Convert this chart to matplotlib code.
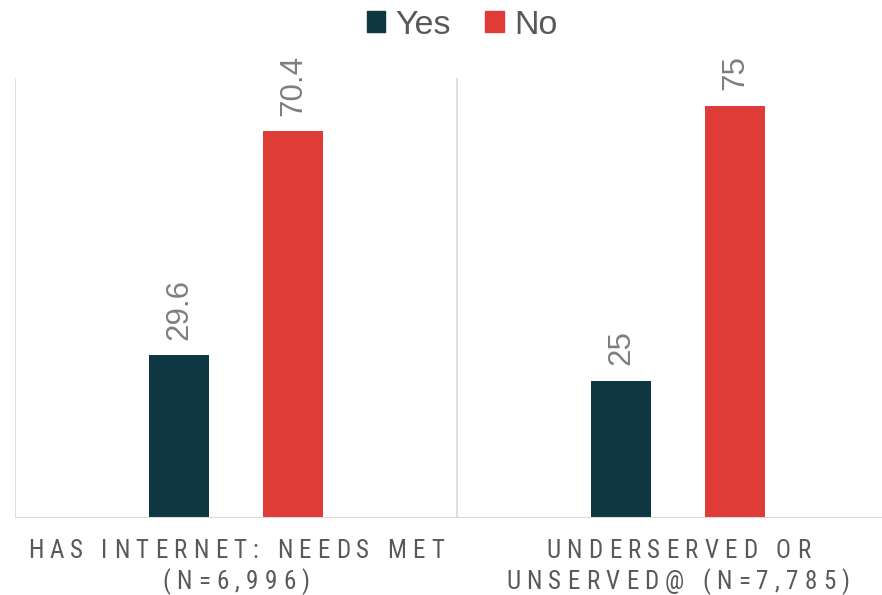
import numpy as np
import matplotlib.pyplot as plt
from matplotlib.patches import Patch
from matplotlib.font_manager import FontProperties

categories = ["HAS INTERNET: NEEDS MET\n(N=6,996)", "UNDERSERVED OR\nUNSERVED@ (N=7,785)"]
yes_vals = [29.6, 25]
no_vals = [70.4, 75]
yes_labels = ["29.6", "25"]
no_labels = ["70.4", "75"]

yes_color = "#0E3742"
no_color = "#E03C37"
grid_color = "#D9D9D9"
label_color = "#7F7F7F"
text_color = "#595959"

plt.rcParams['font.family'] = ['Liberation Sans', 'DejaVu Sans']

W, H = 882, 595
fig = plt.figure(figsize=(W / 100, H / 100), dpi=100)
ax = fig.add_axes([15 / W, 1 - 518 / H, 884 / W, 440 / H])

x = np.arange(len(categories))
w = 0.136
off = 0.129
b1 = ax.bar(x - off, yes_vals, w, color=yes_color)
b2 = ax.bar(x + off, no_vals, w, color=no_color)

for bars, labs in ((b1, yes_labels), (b2, no_labels)):
    for b, t in zip(bars, labs):
        ax.annotate(t, (b.get_x() + b.get_width() / 2, b.get_height()),
                    xytext=(0, 11), textcoords="offset points",
                    rotation=90, ha="center", va="bottom",
                    fontsize=22.5, color=label_color)

ax.set_xlim(-0.5, 1.5)
ax.set_ylim(0, 80)
for xv in (-0.5, 0.5, 1.5):
    ax.axvline(xv, color=grid_color, lw=1.2, zorder=0)
for s in ax.spines.values():
    s.set_visible(False)
ax.axhline(0, color=grid_color, lw=1.5, zorder=3)
ax.set_yticks([])
ax.set_xticks([])

# category labels: condensed font with letter spacing
renderer = fig.canvas.get_renderer()
prop = FontProperties(family=['Roboto Condensed', 'Noto Sans Condensed', 'Liberation Sans'],
                      stretch='condensed', size=18)


def text_w(s):
    return renderer.get_text_width_height_descent(s, prop, ismath=False)[0]


def char_w(c):
    return text_w("H" + c + "H") - text_w("HH")


# tracking chosen so the first line spans ~416 px like the reference
first = categories[0].split("\n")[0]
track = (416 - sum(char_w(c) for c in first)) / (len(first) - 1)

baselines = [558, 589]
for i, cat in enumerate(categories):
    cx = ax.transData.transform((x[i], 0))[0]
    for line, by in zip(cat.split("\n"), baselines):
        widths = [char_w(c) for c in line]
        total = sum(widths) + track * (len(line) - 1)
        px = cx - total / 2
        for c, cw in zip(line, widths):
            if c != " ":
                fig.text(px / W, 1 - by / H, c, fontproperties=prop,
                         color=text_color, ha="left", va="baseline")
            px += cw + track

handles = [Patch(color=yes_color, label="Yes"), Patch(color=no_color, label="No")]
fig.legend(handles=handles, loc="center", bbox_to_anchor=(462 / W, 1 - 25 / H),
           ncol=2, frameon=False, fontsize=24.5, handlelength=0.55, handleheight=0.55,
           handletextpad=0.3, columnspacing=1.0, labelcolor=text_color)

fig.savefig("out.png", dpi=100)
